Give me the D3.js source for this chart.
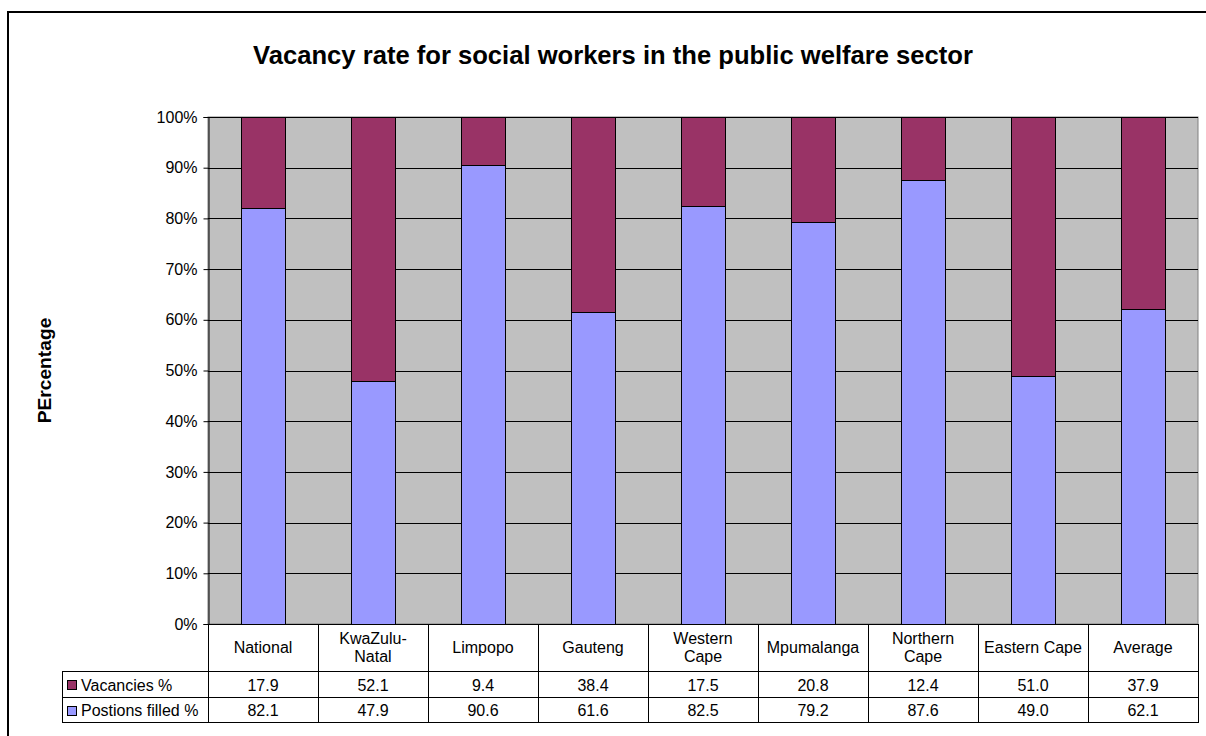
<!DOCTYPE html>
<html>
<head>
<meta charset="utf-8">
<script src="https://cdn.jsdelivr.net/npm/d3@7/dist/d3.min.js"></script>
<style>
  html, body { margin: 0; padding: 0; background: #fff; }
  svg { display: block; font-family: "Liberation Sans", Arial, sans-serif; }
</style>
</head>
<body>
<svg id="chart" width="1206" height="736"></svg>
<script>
// Provinces shown as columns, with display labels (line breaks where the table wraps)
const categories = ["National", "KwaZulu-Natal", "Limpopo", "Gauteng", "Western Cape",
                    "Mpumalanga", "Northern Cape", "Eastern Cape", "Average"];
const categoryLines = [["National"], ["KwaZulu-", "Natal"], ["Limpopo"], ["Gauteng"],
                       ["Western", "Cape"], ["Mpumalanga"], ["Northern", "Cape"],
                       ["Eastern Cape"], ["Average"]];
const vacancies = [17.9, 52.1, 9.4, 38.4, 17.5, 20.8, 12.4, 51.0, 37.9];
const filled    = [82.1, 47.9, 90.6, 61.6, 82.5, 79.2, 87.6, 49.0, 62.1];
const seriesNames = ["Vacancies %", "Postions filled %"];
const yTicks = [0, 10, 20, 30, 40, 50, 60, 70, 80, 90, 100];

const colFilled = "#9999FF", colVacant = "#993366", colPlot = "#C0C0C0";

const svg = d3.select("#chart");

// Outer chart frame (continues past the page edge)
svg.append("rect").attr("x", 8).attr("y", 12).attr("width", 1300).attr("height", 900)
  .attr("fill", "none").attr("stroke", "#000").attr("stroke-width", 2);

const plot = { left: 208, right: 1198, top: 117, bottom: 624 };
const rows = { cat: 671, vac: 697, fil: 722 };
const legendLeft = 62;

const x = d3.scaleBand().domain(categories).range([plot.left, plot.right]).padding(0);
const y = d3.scaleLinear().domain([0, 100]).range([plot.bottom, plot.top]);
const barW = x.bandwidth() * 0.4;

// Title
svg.append("text").attr("x", 613).attr("y", 64).attr("text-anchor", "middle")
  .attr("font-size", 25.6).attr("font-weight", "bold").attr("fill", "#000")
  .text("Vacancy rate for social workers in the public welfare sector");

// Y axis title
svg.append("text").attr("transform", "translate(51,370.5) rotate(-90)")
  .attr("text-anchor", "middle").attr("font-size", 19.2).attr("font-weight", "bold")
  .text("PErcentage");

// Plot background
svg.append("rect").attr("x", plot.left).attr("y", plot.top)
  .attr("width", plot.right - plot.left).attr("height", plot.bottom - plot.top)
  .attr("fill", colPlot).attr("stroke", "#808080").attr("stroke-width", 1);

// Gridlines
svg.append("g").selectAll("line").data(yTicks.filter(d => d > 0)).join("line")
  .attr("x1", plot.left).attr("x2", plot.right)
  .attr("y1", d => Math.round(y(d)) + 0.5).attr("y2", d => Math.round(y(d)) + 0.5)
  .attr("stroke", "#000").attr("stroke-width", 1);

// Stacked bars
const stackData = categories.map((c, i) => ({ cat: c, filled: filled[i], vacant: vacancies[i] }));
const stacked = d3.stack().keys(["filled", "vacant"])(stackData);
const colors = { filled: colFilled, vacant: colVacant };
svg.append("g").selectAll("g").data(stacked).join("g")
  .attr("fill", d => colors[d.key])
  .selectAll("rect").data(d => d).join("rect")
  .attr("x", d => Math.round(x(d.data.cat) + (x.bandwidth() - barW) / 2) + 0.5)
  .attr("y", d => Math.round(y(d[1])) + 0.5)
  .attr("width", Math.round(barW))
  .attr("height", d => Math.round(y(d[0])) - Math.round(y(d[1])))
  .attr("stroke", "#000").attr("stroke-width", 1);

// Y axis
const yAxis = d3.axisLeft(y).tickValues(yTicks).tickFormat(d => d + "%")
  .tickSize(5).tickPadding(6);
const gy = svg.append("g").attr("transform", `translate(${plot.left + 0.5},0)`).call(yAxis);
gy.select(".domain").attr("stroke", "#000");
gy.selectAll(".tick line").attr("stroke", "#000");
gy.selectAll(".tick text").attr("font-size", 16).attr("fill", "#000")
  .attr("font-family", "Liberation Sans, Arial, sans-serif");

// Data table
const tbl = svg.append("g").attr("stroke", "#000").attr("stroke-width", 1);
const hl = (y0, x0) => tbl.append("line").attr("x1", x0).attr("x2", plot.right)
  .attr("y1", y0 + 0.5).attr("y2", y0 + 0.5);
hl(plot.bottom, plot.left);
hl(rows.cat, legendLeft);
hl(rows.vac, legendLeft);
hl(rows.fil, legendLeft);
const colEdges = categories.map(c => x(c)).concat([plot.right]);
tbl.selectAll("line.v").data(colEdges).join("line").attr("class", "v")
  .attr("x1", d => Math.round(d) + 0.5).attr("x2", d => Math.round(d) + 0.5)
  .attr("y1", plot.bottom).attr("y2", rows.fil + 1);
tbl.append("line").attr("x1", legendLeft + 0.5).attr("x2", legendLeft + 0.5)
  .attr("y1", rows.cat).attr("y2", rows.fil + 1);

// Category names
const catG = svg.append("g").attr("font-size", 16).attr("text-anchor", "middle");
categories.forEach((c, i) => {
  const lines = categoryLines[i];
  const cx = x(c) + x.bandwidth() / 2;
  const cy = (plot.bottom + rows.cat) / 2;
  const lh = 18;
  lines.forEach((t, j) => {
    catG.append("text").attr("x", cx)
      .attr("y", cy + (j - (lines.length - 1) / 2) * lh)
      .attr("dy", "0.36em").text(t);
  });
});

// Values rows
const valG = svg.append("g").attr("font-size", 16).attr("text-anchor", "middle");
[vacancies, filled].forEach((arr, r) => {
  const cy = r === 0 ? (rows.cat + rows.vac) / 2 + 1 : (rows.vac + rows.fil) / 2 + 1;
  arr.forEach((v, i) => {
    valG.append("text").attr("x", x(categories[i]) + x.bandwidth() / 2)
      .attr("y", cy).attr("dy", "0.36em").text(v.toFixed(1));
  });
});

// Legend keys in the row headers
[colVacant, colFilled].forEach((col, r) => {
  const cy = r === 0 ? (rows.cat + rows.vac) / 2 + 1 : (rows.vac + rows.fil) / 2 + 1;
  svg.append("rect").attr("x", 67.5).attr("y", Math.round(cy - 5) + 0.5)
    .attr("width", 9).attr("height", 9).attr("fill", col)
    .attr("stroke", "#000").attr("stroke-width", 1);
  svg.append("text").attr("x", 81).attr("y", cy).attr("dy", "0.36em")
    .attr("font-size", 16).text(seriesNames[r]);
});
</script>
</body>
</html>
